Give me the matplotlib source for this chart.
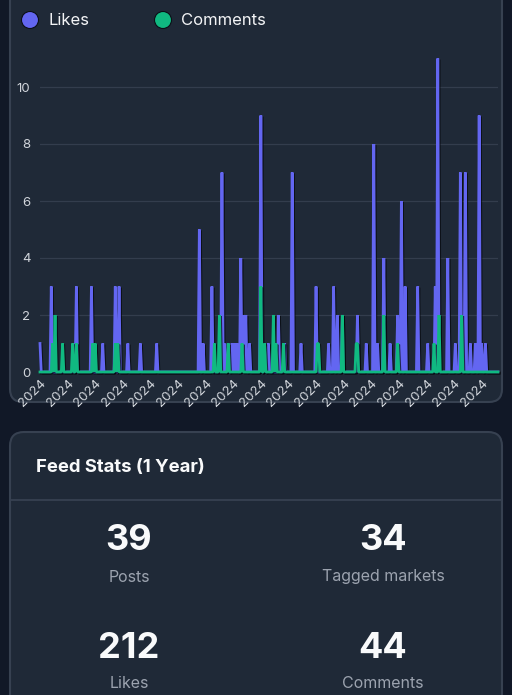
import numpy as np
import matplotlib
matplotlib.use("Agg")
import matplotlib.pyplot as plt
from matplotlib.patches import FancyBboxPatch, Circle
import matplotlib.patheffects as pe

plt.rcParams['font.family'] = ['Inter', 'DejaVu Sans']

# ---------------- data ----------------
n_days = 366
like_days = [0, 9, 29, 41, 50, 60, 63, 70, 80, 93,
             127, 130, 137, 145, 147, 150, 153, 155, 157, 160, 162, 164, 167,
             176, 179, 182, 190, 195, 201,
             208, 220, 230, 234, 237, 241, 253, 260, 266, 269, 274, 279, 285,
             288, 291, 301, 309, 315, 317, 325, 331, 335, 339, 343, 347, 350,
             352, 355]
like_values = [1, 3, 3, 3, 1, 3, 3, 1, 1, 1,
               5, 1, 3, 7, 1, 1, 1, 1, 1, 4, 2, 2, 1,
               9, 1, 1, 2, 1, 7,
               1, 3, 1, 3, 2, 2, 2, 1, 8, 1, 4, 1, 2,
               6, 3, 3, 1, 3, 11, 4, 1, 7, 7, 1, 1, 9,
               1, 1]
comment_days = [10, 12, 18, 26, 29, 42, 44, 60, 62,
                139, 143, 150, 161, 176, 179, 186, 188, 194,
                221, 222, 241, 252, 253, 274, 285, 314, 318, 336]
comment_values = [1, 2, 1, 1, 1, 1, 1, 1, 1,
                  1, 2, 1, 1, 3, 1, 2, 1, 1,
                  1, 1, 2, 1, 1, 2, 1, 1, 2, 2]
tick_step = 22
tick_label = '2024'
y_ticks = [0, 2, 4, 6, 8, 10]
y_max = 11
series_names = ['Likes', 'Comments']
series_colors = ['#6366f1', '#10b981']
card_title = 'Feed Stats (1 Year)'
stat_values = ['39', '34', '212', '44']
stat_labels = ['Posts', 'Tagged markets', 'Likes', 'Comments']

days = np.arange(n_days)
likes = np.zeros(n_days)
likes[like_days] = like_values
comments = np.zeros(n_days)
comments[comment_days] = comment_values

# ---------------- figure ----------------
W, H = 512, 695
PAGE = '#111827'
CARD = '#1f2937'
BORDER = '#374151'
fig = plt.figure(figsize=(W / 100, H / 100), dpi=100, facecolor=PAGE)

bg = fig.add_axes([0, 0, 1, 1], zorder=0)
bg.set_xlim(0, W)
bg.set_ylim(H, 0)
bg.axis('off')
bg.set_facecolor(PAGE)

# cards
bg.add_patch(FancyBboxPatch((10, -40), 492, 442,
                            boxstyle='round,pad=0,rounding_size=13',
                            fc=CARD, ec=BORDER, lw=1.5))
bg.add_patch(FancyBboxPatch((10, 432), 492, 300,
                            boxstyle='round,pad=0,rounding_size=14',
                            fc=CARD, ec=BORDER, lw=1.5))
bg.plot([10, 502], [500, 500], color=BORDER, lw=1.3)

# legend
leg_x = [30, 163]
for name, col, cx in zip(series_names, series_colors, leg_x):
    bg.add_patch(Circle((cx, 20), 8.5, fc=col, ec='#0b0f17', lw=0.8))
    bg.text(cx + 18, 20.5, name, color='#f3f4f6', fontsize=12,
            va='center', ha='left')

# stats card text
bg.text(36, 467, card_title, color='#f9fafb', fontsize=13.3,
        fontweight='bold', va='center', ha='left')
pos = [(129, 540, 577), (383, 540, 577), (129, 648, 684), (383, 648, 684)]
for v, lab, (x, yv, yl) in zip(stat_values, stat_labels, pos):
    bg.text(x, yv, v, color='#f9fafb', fontsize=26, fontweight='bold',
            ha='center', va='center')
    bg.text(x, yl, lab, color='#9ca3af', fontsize=11.5,
            ha='center', va='center')

# ---------------- chart ----------------
ax = fig.add_axes([40 / W, 1 - 372 / H, 458 / W, (372 - 58.5) / H], zorder=1)
ax.patch.set_alpha(0)
ax.set_xlim(0, n_days - 1)
ax.set_ylim(0, y_max)
for s in ax.spines.values():
    s.set_visible(False)
ax.set_yticks(y_ticks)
ax.set_yticklabels([str(t) for t in y_ticks])
ax.yaxis.grid(True, color=BORDER, lw=0.9, alpha=0.85)
ax.set_axisbelow(True)
xt = days[::tick_step]
ax.set_xticks(xt)
ax.set_xticklabels([tick_label] * len(xt), rotation=45, ha='right',
                   rotation_mode='anchor')
ax.tick_params(axis='y', length=0, pad=7, labelsize=9.5, labelcolor='#d1d5db')
ax.tick_params(axis='x', length=0, pad=4, labelsize=9.5, labelcolor='#d1d5db')

shadow = [pe.SimpleLineShadow(offset=(0.8, -0.8), shadow_color='#05070b', alpha=0.7),
          pe.Normal()]
ax.plot(days, likes, color=series_colors[0], lw=2.0, solid_joinstyle='bevel',
        clip_on=False, path_effects=shadow, zorder=2)
ax.plot(days, comments, color=series_colors[1], lw=2.0, solid_joinstyle='bevel',
        clip_on=False, path_effects=shadow, zorder=3)

fig.savefig('out.png', dpi=100, facecolor=PAGE)
